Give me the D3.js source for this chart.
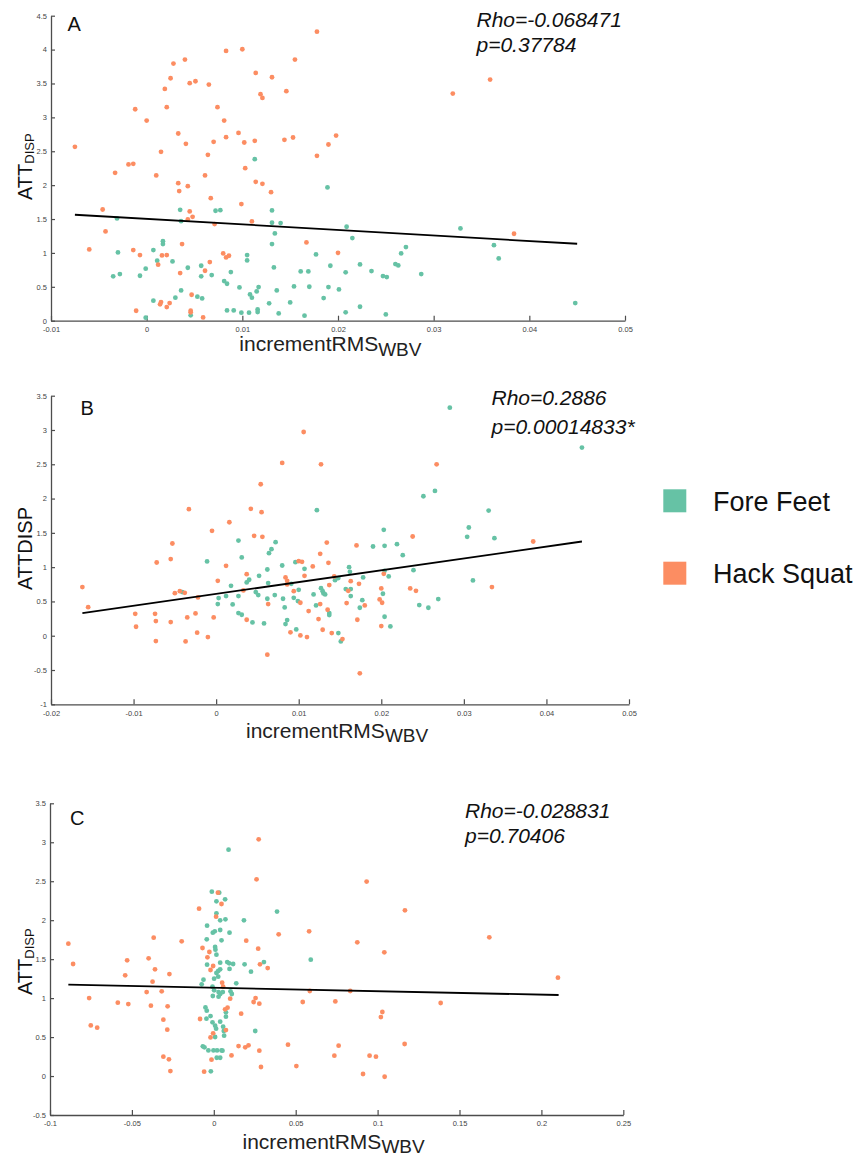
<!DOCTYPE html>
<html>
<head>
<meta charset="utf-8">
<script src="https://cdn.jsdelivr.net/npm/d3@7"></script>
<style>
  html, body { margin: 0; padding: 0; background: #fff; }
  svg { display: block; font-family: "Liberation Sans", Arial, sans-serif; }
</style>
</head>
<body>
<svg id="chart" width="861" height="1157"></svg>
<script>
// ---------------- DATA ----------------
const seriesNames = ["Fore Feet", "Hack Squat"];
const seriesColors = ["#66c2a5", "#fc8d62"];

const aXTicks = [-0.01, 0, 0.01, 0.02, 0.03, 0.04, 0.05];
const aYTicks = [0, 0.5, 1, 1.5, 2, 2.5, 3, 3.5, 4, 4.5];
const bXTicks = [-0.02, -0.01, 0, 0.01, 0.02, 0.03, 0.04, 0.05];
const bYTicks = [-1, -0.5, 0, 0.5, 1, 1.5, 2, 2.5, 3, 3.5];
const cXTicks = [-0.1, -0.05, 0, 0.05, 0.1, 0.15, 0.2, 0.25];
const cYTicks = [-0.5, 0, 0.5, 1, 1.5, 2, 2.5, 3, 3.5];

const aFore = [[-0.0031,1.509],[-0.0030,1.007],[-0.0035,0.654],[-0.0028,0.688],[-0.0007,0.663],[-0.0001,0.767],[-0.0001,0.044],[0.0007,1.042],[0.0007,0.295],[0.0011,0.885],[0.0017,1.174],[0.0017,1.13],[0.0027,0.875],[0.0030,0.339],[0.0036,0.447],[0.0035,1.636],[0.0036,1.469],[0.0043,0.781],[0.0046,0.079],[0.0053,0.354],[0.0058,0.329],[0.0057,0.811],[0.0057,0.654],[0.0068,0.673],[0.0072,1.622],[0.0077,1.631],[0.0081,0.585],[0.0084,0.545],[0.0084,0.152],[0.0088,0.717],[0.0091,0.152],[0.0097,0.491],[0.0099,0.118],[0.0105,0.968],[0.0105,0.889],[0.0108,0.388],[0.0107,0.118],[0.0110,0.339],[0.0113,2.383],[0.0115,0.432],[0.0117,0.496],[0.0116,0.167],[0.0116,0.128],[0.0128,0.256],[0.0131,1.627],[0.0131,1.445],[0.0140,1.44],[0.0134,1.287],[0.0131,1.13],[0.0133,0.786],[0.0136,0.447],[0.0138,0.108],[0.0150,0.27],[0.0154,0.506],[0.0161,0.727],[0.0169,0.727],[0.0170,0.501],[0.0165,0.074],[0.0177,0.978],[0.0185,0.334],[0.0189,1.966],[0.0190,0.496],[0.0192,0.811],[0.0209,1.386],[0.0215,1.219],[0.0208,0.713],[0.0201,0.462],[0.0208,0.123],[0.0223,0.83],[0.0223,0.206],[0.0235,0.732],[0.0247,0.658],[0.0251,0.644],[0.0250,0.093],[0.0260,0.835],[0.0263,0.816],[0.0266,0.993],[0.0271,1.086],[0.0287,0.688],[0.0328,1.361],[0.0363,1.115],[0.0368,0.919],[0.0448,0.26]];
const aHack = [[-0.0075,2.565],[-0.0046,1.641],[-0.0043,1.317],[-0.0060,1.052],[-0.0033,2.182],[-0.0019,2.305],[-0.0014,2.315],[-0.0012,3.12],[0,2.953],[-0.0014,1.042],[-0.0007,0.968],[-0.0011,0.147],[0.0010,2.143],[0.0015,2.491],[0.0019,3.42],[0.0021,3.15],[0.0025,3.577],[0.0028,3.794],[0.0040,3.853],[0.0045,3.504],[0.0051,3.533],[0.0033,2.762],[0.0041,2.609],[0.0033,2.029],[0.0034,1.912],[0.0043,1.985],[0.0045,1.612],[0.0048,1.533],[0.0043,1.494],[0.0037,1.13],[0.0012,0.826],[0.0016,0.963],[0.0021,0.968],[0.0035,0.703],[0.0015,0.275],[0.0014,0.241],[0.0024,0.26],[0.0021,0.201],[0.0047,0.383],[0.0046,0.147],[0.0046,0.123],[0.0059,0.049],[0.0061,0.737],[0.0066,0.865],[0.0065,3.484],[0.0064,2.447],[0.0061,2.143],[0.0067,1.808],[0.0070,2.639],[0.0071,1.425],[0.0074,3.15],[0.0081,2.953],[0.0083,2.708],[0.0083,3.98],[0.0096,2.771],[0.0099,1.72],[0.0100,4.005],[0.0102,2.629],[0.0103,2.251],[0.0080,0.993],[0.0083,0.934],[0.0086,0.958],[0.0110,1.464],[0.0113,2.654],[0.0114,2.049],[0.0114,3.656],[0.0121,2.02],[0.0119,3.342],[0.0121,3.287],[0.0131,3.592],[0.0130,1.897],[0.0144,2.668],[0.0146,3.386],[0.0153,2.703],[0.0155,3.853],[0.0167,1.155],[0.0178,4.265],[0.0178,2.432],[0.0190,2.60],[0.0198,2.732],[0.0200,1.002],[0.0320,3.351],[0.0359,3.558],[0.0384,1.283]];

const bFore = [[-0.0041,0.636],[-0.0011,1.083],[0.0002,0.461],[0.0003,0.549],[0.0012,0.578],[0.0018,0.728],[0.0020,0.456],[0.0027,0.578],[0.0027,1.388],[0.0027,0.33],[0.0031,0.306],[0.0031,1.141],[0.0037,0.777],[0.0040,0.816],[0.0044,0.194],[0.0048,0.636],[0.0051,0.592],[0.0052,0.874],[0.0058,0.18],[0.0062,0.539],[0.0062,0.966],[0.0063,0.767],[0.0064,1.204],[0.0067,1.262],[0.0071,0.592],[0.0072,1.364],[0.0080,1.024],[0.0081,0.539],[0.0083,0.413],[0.0084,0.17],[0.0086,0.228],[0.0091,0.757],[0.0094,0.553],[0.0096,1.073],[0.0097,0.092],[0.0099,0.505],[0.0100,0.67],[0.0107,0.976],[0.0118,0.602],[0.0121,0.442],[0.0122,1.83],[0.0127,0.694],[0.0129,0.65],[0.0130,0.617],[0.0132,0.602],[0.0137,0.33],[0.0137,0.301],[0.0144,0.81],[0.0148,0.84],[0.0148,0.039],[0.0151,-0.083],[0.0157,0.68],[0.0161,1.0],[0.0162,0.932],[0.0163,0.68],[0.0163,0.578],[0.0174,0.408],[0.0177,0.519],[0.0178,0.85],[0.0190,1.301],[0.0202,0.612],[0.0203,1.544],[0.0204,1.311],[0.0204,0.947],[0.0204,0.277],[0.0209,0.864],[0.0211,0.136],[0.0219,1.335],[0.0226,1.175],[0.0239,0.956],[0.0246,0.447],[0.0251,2.034],[0.0257,0.408],[0.0265,2.112],[0.0269,0.534],[0.0283,3.325],[0.0304,1.442],[0.0306,1.578],[0.0311,0.806],[0.0330,1.825],[0.0337,1.422],[0.0443,2.743]];
const bHack = [[-0.0162,0.709],[-0.0155,0.417],[-0.0098,0.32],[-0.0097,0.131],[-0.0074,0.32],[-0.0073,0.214],[-0.0072,1.068],[-0.0073,-0.078],[-0.0055,0.199],[-0.0055,1.117],[-0.0053,1.345],[-0.0050,0.621],[-0.0044,0.65],[-0.0038,0.626],[-0.0035,0.267],[-0.0033,1.845],[-0.0037,-0.083],[-0.0023,0.044],[-0.0025,0.325],[-0.0022,0.558],[-0.0010,-0.019],[-0.0003,0.267],[-0.0005,1.529],[0.0002,0.801],[0.0012,1.019],[0.0016,1.655],[0.0033,0.66],[0.0037,0.898],[0.0037,0.233],[0.0042,1.85],[0.0046,1.456],[0.0054,2.209],[0.0055,1.801],[0.0056,1.442],[0.0063,0.461],[0.0062,-0.277],[0.0080,2.519],[0.0084,0.85],[0.0086,0.801],[0.0086,0.748],[0.0090,0.049],[0.0094,0.65],[0.0100,1.087],[0.0104,1.078],[0.0102,0.481],[0.0102,0.005],[0.0106,2.971],[0.0107,0.874],[0.0110,-0.019],[0.0112,0.359],[0.0117,1.01],[0.0126,1.194],[0.0127,2.5],[0.0126,0.461],[0.0129,0.087],[0.0124,0.243],[0.0134,1.359],[0.0136,1.063],[0.0137,0.738],[0.0135,0.379],[0.0140,0.039],[0.0143,0.864],[0.0153,-0.049],[0.0158,0.476],[0.0160,0.655],[0.0163,0.796],[0.0170,1.316],[0.0171,0.233],[0.0173,0.757],[0.0174,-0.549],[0.0180,0.442],[0.0198,0.529],[0.0200,0.689],[0.0201,0.481],[0.0200,0.141],[0.0203,0.903],[0.0238,1.447],[0.0235,0.689],[0.0242,0.655],[0.0267,2.5],[0.0334,0.709],[0.0384,1.374]];

const cFore = [[-0.0067,0.381],[-0.0057,0.368],[-0.0074,1.177],[-0.0063,1.237],[-0.0051,0.881],[-0.0043,0.839],[-0.0045,0.736],[-0.0041,1.429],[-0.0043,1.754],[-0.0041,1.93],[-0.0033,0.329],[-0.0020,0.77],[-0.0018,0.06],[-0.0012,2.366],[-0.0006,1.84],[0.0006,1.857],[0.0008,1.656],[0.0010,1.622],[-0.0002,0.329],[-0.0008,0.689],[-0.0008,1.147],[-0.0006,1.027],[0.0002,1.249],[0.0002,1.1],[0.0008,0.501],[0.0008,0.646],[0.0014,0.608],[0.0016,2.242],[0.0016,2.088],[0.0016,1.322],[0.0016,1.558],[0.0020,0.329],[0.0018,0.235],[0.0027,1.348],[0.0027,1.275],[0.0029,1.078],[0.0029,1.018],[0.0033,2.353],[0.0039,1.998],[0.0039,1.874],[0.0039,1.455],[0.0039,1.369],[0.0039,1.053],[0.0039,0.697],[0.0039,0.235],[0.0047,1.742],[0.0047,0.329],[0.0053,0.325],[0.0055,1.078],[0.0057,0.633],[0.0061,0.578],[0.0063,0.518],[0.0069,2.268],[0.0071,2.011],[0.0074,0.817],[0.0074,0.762],[0.0082,1.463],[0.0090,2.905],[0.0096,1.84],[0.0094,1.446],[0.0096,1.374],[0.0102,1.087],[0.0110,1.053],[0.0118,1.438],[0.0137,1.19],[0.0184,1.998],[0.0188,1.433],[0.0227,1.339],[0.0253,0.578],[0.0306,1.463],[0.0386,2.11],[0.0592,1.493]];
const cHack = [[-0.0888,1.699],[-0.0859,1.438],[-0.0761,1.001],[-0.0751,0.65],[-0.0712,0.62],[-0.0586,0.941],[-0.0522,0.924],[-0.0541,1.292],[-0.0529,1.485],[-0.0410,1.078],[-0.0398,1.51],[-0.0384,0.903],[-0.0374,1.211],[-0.0367,1.776],[-0.0359,1.369],[-0.0318,1.087],[-0.0308,0.723],[-0.0308,0.248],[-0.0284,0.595],[-0.0282,0.894],[-0.0274,0.214],[-0.0271,1.309],[-0.0265,0.064],[-0.0196,1.729],[-0.0090,2.148],[-0.0084,0.732],[-0.0069,1.643],[-0.0059,0.056],[-0.0039,1.523],[-0.0027,1.592],[-0.0020,1.361],[-0.0020,0.496],[-0.0014,0.21],[-0.0004,0.548],[-0.0004,1.412],[0.0014,2.045],[0.0025,2.353],[0.0047,2.208],[0.0051,1.198],[0.0057,1.147],[0.0069,0.856],[0.0074,0.59],[0.0084,0.877],[0.0100,0.993],[0.0108,0.265],[0.0151,0.385],[0.0167,0.8],[0.0192,0.368],[0.0198,1.737],[0.0212,0.394],[0.0243,0.95],[0.0255,1.001],[0.0261,2.525],[0.0274,3.038],[0.0271,1.635],[0.0278,0.929],[0.0282,1.433],[0.0278,0.325],[0.0288,0.116],[0.0329,1.386],[0.0396,1.819],[0.0453,0.402],[0.0504,0.128],[0.0543,0.95],[0.0582,1.857],[0.0586,1.091],[0.0833,1.091],[0.0742,0.958],[0.0762,0.389],[0.0736,0.261],[0.0876,1.716],[0.0933,2.495],[0.0911,0.026],[0.0951,0.261],[0.0990,0.248],[0.1029,0.822],[0.1020,0.757],[0.1041,1.588],[0.1043,-0.009],[0.1167,2.127],[0.1165,0.411],[0.1385,0.937],[0.1682,1.78],[0.2101,1.262]];

const aFit = [[-0.0075, 1.563], [0.045, 1.135]];
const bFit = [[-0.0162, 0.33], [0.0443, 1.374]];
const cFit = [[-0.0888, 1.172], [0.2105, 1.04]];

const panelLetters = ["A", "B", "C"];
const rhoTexts = ["Rho=-0.068471", "Rho=0.2886", "Rho=-0.028831"];
const pTexts = ["p=0.37784", "p=0.00014833*", "p=0.70406"];

// ---------------- LAYOUT ----------------
const panels = [
  { xTicks: aXTicks, yTicks: aYTicks, fore: aFore, hack: aHack, fit: aFit,
    box: { l: 51, r: 625, t: 15.7, b: 320.7 },
    letter: { x: 67.5, y: 31 }, stats: { x: 476.5, y1: 27.3, y2: 52.3 },
    xlab: { x: 239.3, y: 351, subDy: 5 },
    ylab: { x: 31.7, y: 200, size: 20, subSize: 13, subDy: 2 } },
  { xTicks: bXTicks, yTicks: bYTicks, fore: bFore, hack: bHack, fit: bFit,
    box: { l: 51, r: 629, t: 395.7, b: 704.3 },
    letter: { x: 80.5, y: 415 }, stats: { x: 491.5, y1: 405, y2: 434 },
    xlab: { x: 246, y: 738.3, subDy: 4 },
    ylab: { x: 31.5, y: 590, size: 20, subSize: 20, subDy: 0 } },
  { xTicks: cXTicks, yTicks: cYTicks, fore: cFore, hack: cHack, fit: cFit,
    box: { l: 50, r: 623.3, t: 803.3, b: 1115 },
    letter: { x: 70, y: 825 }, stats: { x: 465, y1: 818.3, y2: 843.3 },
    xlab: { x: 242.5, y: 1149, subDy: 4 },
    ylab: { x: 31.7, y: 995, size: 20, subSize: 13, subDy: 2 } }
];

const svg = d3.select("#chart");
const axisColor = "#4d4d4d";

panels.forEach((p, i) => {
  const x = d3.scaleLinear().domain([p.xTicks[0], p.xTicks[p.xTicks.length - 1]]).range([p.box.l, p.box.r]);
  const y = d3.scaleLinear().domain([p.yTicks[0], p.yTicks[p.yTicks.length - 1]]).range([p.box.b, p.box.t]);
  const g = svg.append("g");

  // axes
  const xa = g.append("g").attr("transform", `translate(0,${p.box.b})`)
    .call(d3.axisBottom(x).tickValues(p.xTicks).tickFormat(d => String(d))
      .tickSizeInner(-5).tickSizeOuter(0).tickPadding(6));
  const ya = g.append("g").attr("transform", `translate(${p.box.l},0)`)
    .call(d3.axisLeft(y).tickValues(p.yTicks).tickFormat(d => String(d))
      .tickSizeInner(-4).tickSizeOuter(0).tickPadding(4));
  [xa, ya].forEach(a => {
    a.select(".domain").attr("stroke", axisColor).attr("stroke-width", 1.3);
    a.selectAll(".tick line").attr("stroke", axisColor).attr("stroke-width", 1.2);
    a.selectAll(".tick text").attr("fill", "#444").style("font-size", "7.5px")
      .style("font-family", '"Liberation Sans", Arial, sans-serif');
  });

  // points
  const series = [p.fore, p.hack];
  series.forEach((data, si) => {
    g.append("g").selectAll("circle").data(data).enter().append("circle")
      .attr("cx", d => x(d[0])).attr("cy", d => y(d[1])).attr("r", 2.4)
      .attr("fill", seriesColors[si]);
  });

  // fit line
  g.append("path").datum(p.fit)
    .attr("d", d3.line().x(d => x(d[0])).y(d => y(d[1])))
    .attr("stroke", "#000").attr("stroke-width", 1.8).attr("fill", "none");

  // panel letter
  g.append("text").attr("x", p.letter.x).attr("y", p.letter.y)
    .style("font-size", "20px").attr("fill", "#111").text(panelLetters[i]);

  // stats
  g.append("text").attr("x", p.stats.x).attr("y", p.stats.y1)
    .style("font-size", "21px").style("font-style", "italic").attr("fill", "#111").text(rhoTexts[i]);
  g.append("text").attr("x", p.stats.x).attr("y", p.stats.y2)
    .style("font-size", "21px").style("font-style", "italic").attr("fill", "#111").text(pTexts[i]);

  // x label
  const xl = g.append("text").attr("x", p.xlab.x).attr("y", p.xlab.y)
    .style("font-size", "21px").attr("fill", "#222");
  xl.append("tspan").text("incrementRMS");
  xl.append("tspan").attr("dy", p.xlab.subDy).style("font-size", "19px").text("WBV");

  // y label
  const yl = g.append("text")
    .attr("transform", `translate(${p.ylab.x},${p.ylab.y}) rotate(-90)`)
    .style("font-size", p.ylab.size + "px").attr("fill", "#111");
  yl.append("tspan").text("ATT");
  yl.append("tspan").attr("dy", p.ylab.subDy).style("font-size", p.ylab.subSize + "px").text("DISP");
});

// legend
const legend = svg.append("g");
const legendY = [489.3, 561.7];
seriesNames.forEach((name, i) => {
  legend.append("rect").attr("x", 663.3).attr("y", legendY[i]).attr("width", 23).attr("height", 23)
    .attr("fill", seriesColors[i]);
  legend.append("text").attr("x", 713).attr("y", legendY[i] + 21.2)
    .style("font-size", "27px").attr("fill", "#111").text(name);
});
</script>
</body>
</html>
